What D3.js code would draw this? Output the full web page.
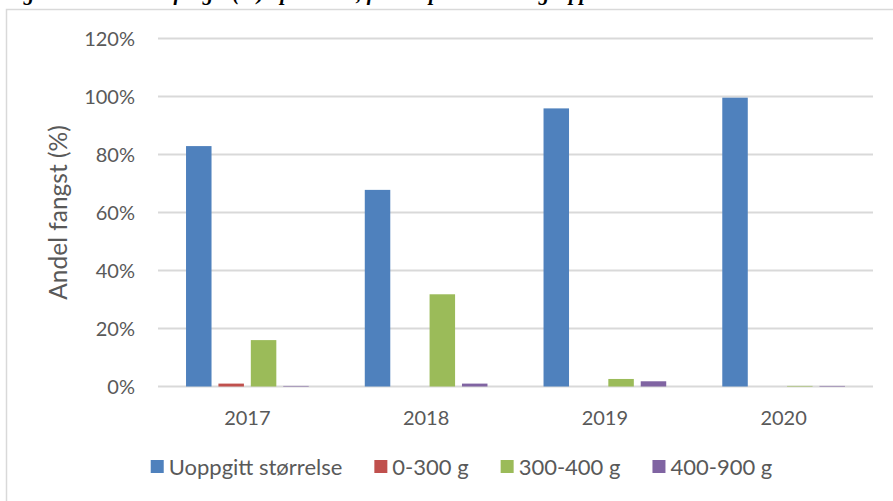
<!DOCTYPE html>
<html>
<head>
<meta charset="utf-8">
<script src="https://cdn.jsdelivr.net/npm/d3@7"></script>
<style>
  html, body { margin: 0; padding: 0; background: #fff; overflow: hidden; }
  svg { display: block; }
  text { font-family: Lato, "Open Sans", sans-serif; fill: #595959; }
</style>
</head>
<body>
<div id="chart"></div>
<script>
// data
const years = ["2017", "2018", "2019", "2020"];
const seriesNames = ["Uoppgitt størrelse", "0-300 g", "300-400 g", "400-900 g"];
const uoppgitt = [82.9, 67.8, 95.9, 99.6];
const g0to300 = [1.0, 0, 0, 0];
const g300to400 = [16.0, 31.8, 2.6, 0.2];
const g400to900 = [0.2, 1.0, 1.8, 0.2];
const yTicks = [0, 20, 40, 60, 80, 100, 120];
const colors = ["#4f81bd", "#c0504d", "#9bbb59", "#8064a2"];

const width = 893, height = 501;
const plot = { left: 158, right: 873, top: 38.5, bottom: 386.5 };

const svg = d3.select("#chart").append("svg")
    .attr("width", width)
    .attr("height", height);

// caption above the frame, mostly outside the picture
svg.append("text")
    .attr("x", 4)
    .attr("y", 0)
    .style("font-family", "'Liberation Serif', 'DejaVu Serif', serif")
    .style("font-style", "italic")
    .style("font-weight", "bold")
    .style("font-size", "21px")
    .style("fill", "#000")
    .text("Figur 10: Andel av fangst (%) i perioden, fordelt på ulike vektgrupper");

// chart frame
svg.append("rect")
    .attr("x", 6.5).attr("y", 9.5)
    .attr("width", 1000).attr("height", 1000)
    .attr("fill", "none")
    .attr("stroke", "#d9d9d9")
    .attr("stroke-width", 1.5);

const table = years.map((yr, i) => ({
    year: yr,
    values: [uoppgitt[i], g0to300[i], g300to400[i], g400to900[i]]
}));

const x0 = d3.scaleBand()
    .domain(years)
    .range([plot.left, plot.right]);

const x1 = d3.scaleBand()
    .domain(d3.range(seriesNames.length))
    .range([0, x0.bandwidth()])
    .paddingInner(0.213)
    .paddingOuter(0.865);

const y = d3.scaleLinear()
    .domain([0, 120])
    .range([plot.bottom, plot.top]);

// gridlines
svg.append("g")
    .selectAll("line")
    .data(yTicks)
    .join("line")
    .attr("x1", plot.left)
    .attr("x2", plot.right)
    .attr("y1", d => y(d))
    .attr("y2", d => y(d))
    .attr("stroke", "#d9d9d9")
    .attr("stroke-width", 2);

// y tick labels
svg.append("g")
    .selectAll("text")
    .data(yTicks)
    .join("text")
    .attr("x", 135)
    .attr("y", d => y(d))
    .attr("dy", "0.35em")
    .attr("text-anchor", "end")
    .style("font-size", "20px")
    .text(d => d + "%");

// y axis title
svg.append("text")
    .attr("transform", `translate(67,${(plot.top + plot.bottom) / 2}) rotate(-90)`)
    .attr("text-anchor", "middle")
    .style("font-size", "24.5px")
    .text("Andel fangst (%)");

// bars
const groups = svg.append("g")
    .selectAll("g")
    .data(table)
    .join("g")
    .attr("transform", d => `translate(${x0(d.year)},0)`);

groups.selectAll("rect")
    .data(d => d.values)
    .join("rect")
    .attr("x", (d, i) => x1(i))
    .attr("width", x1.bandwidth())
    .attr("y", d => y(d))
    .attr("height", d => y(0) - y(d))
    .attr("fill", (d, i) => colors[i]);

// x labels
svg.append("g")
    .selectAll("text")
    .data(years)
    .join("text")
    .attr("x", d => x0(d) + x0.bandwidth() / 2)
    .attr("y", 425)
    .attr("text-anchor", "middle")
    .style("font-size", "20px")
    .text(d => d);

// legend
const legend = svg.append("g");
const items = legend.selectAll("g")
    .data(seriesNames)
    .join("g");

items.append("rect")
    .attr("width", 13)
    .attr("height", 13)
    .attr("y", -7)
    .attr("fill", (d, i) => colors[i]);

items.append("text")
    .attr("x", 18)
    .attr("dy", "0.35em")
    .style("font-size", "22px")
    .text(d => d);

let offset = 0;
const pos = [];
items.each(function () {
    pos.push(offset);
    offset += 18 + this.querySelector("text").getComputedTextLength() + 32;
});
const total = offset - 32;
const legendLeft = 461.5 - total / 2;
items.attr("transform", (d, i) => `translate(${legendLeft + pos[i]},467)`);
</script>
</body>
</html>
